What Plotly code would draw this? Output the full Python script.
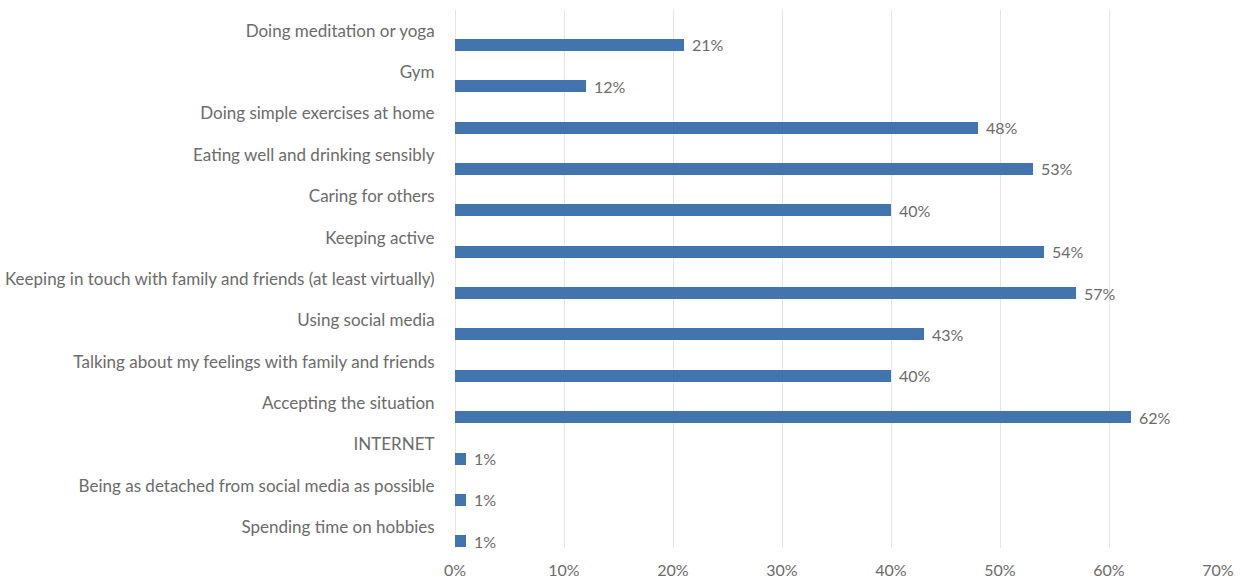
import plotly.graph_objects as go

categories = [
    "Doing meditation or yoga",
    "Gym",
    "Doing simple exercises at home",
    "Eating well and drinking sensibly",
    "Caring for others",
    "Keeping active",
    "Keeping in touch with family and friends (at least virtually)",
    "Using social media",
    "Talking about my feelings with family and friends",
    "Accepting the situation",
    "INTERNET",
    "Being as detached from social media as possible",
    "Spending time on hobbies",
]
values = [0.21, 0.12, 0.48, 0.53, 0.40, 0.54, 0.57, 0.43, 0.40, 0.62, 0.01, 0.01, 0.01]
x_ticks = [0, 0.1, 0.2, 0.3, 0.4, 0.5, 0.6, 0.7]
x_tick_labels = ["0%", "10%", "20%", "30%", "40%", "50%", "60%", "70%"]

BAR_COLOR = "#4274AE"
TEXT_COLOR = "#6b6b6b"
FONT = "Lato"
FSIZE = 17

idx = list(range(len(categories)))
bar_width = 0.29
bar_offset = 0.195

fig = go.Figure()
fig.add_trace(go.Bar(
    x=values,
    y=idx,
    orientation="h",
    width=bar_width,
    offset=bar_offset,
    marker=dict(color=BAR_COLOR, line=dict(width=0)),
    hoverinfo="skip",
))

for i, v in zip(idx, values):
    fig.add_annotation(
        x=v, y=i + bar_offset + bar_width / 2,
        xref="x", yref="y",
        text=f"{round(v * 100)}%",
        showarrow=False,
        xanchor="left", yanchor="middle",
        xshift=6,
        font=dict(family=FONT, size=16, color=TEXT_COLOR),
    )

fig.update_layout(
    width=1240, height=579,
    margin=dict(l=455, r=22, t=10, b=31),
    plot_bgcolor="white",
    paper_bgcolor="white",
    showlegend=False,
    bargap=0,
    font=dict(family=FONT, size=FSIZE, color=TEXT_COLOR),
)
fig.update_xaxes(
    range=[0, 0.7],
    tickvals=x_ticks,
    ticktext=x_tick_labels,
    showgrid=True,
    gridcolor="#e6e6e6",
    gridwidth=1,
    zeroline=True,
    zerolinecolor="#e6e6e6",
    zerolinewidth=1,
    showline=False,
    ticks="outside",
    ticklen=8,
    tickcolor="rgba(0,0,0,0)",
    tickfont=dict(family=FONT, size=16, color=TEXT_COLOR),
    automargin=False,
    fixedrange=True,
)
fig.update_yaxes(
    range=[len(categories) - 0.5, -0.5],
    tickvals=idx,
    ticktext=categories,
    showgrid=False,
    zeroline=False,
    showline=False,
    ticks="outside",
    ticklen=16,
    tickcolor="rgba(0,0,0,0)",
    tickfont=dict(family=FONT, size=FSIZE, color=TEXT_COLOR),
    automargin=False,
    fixedrange=True,
)

fig.write_html("out.html")
